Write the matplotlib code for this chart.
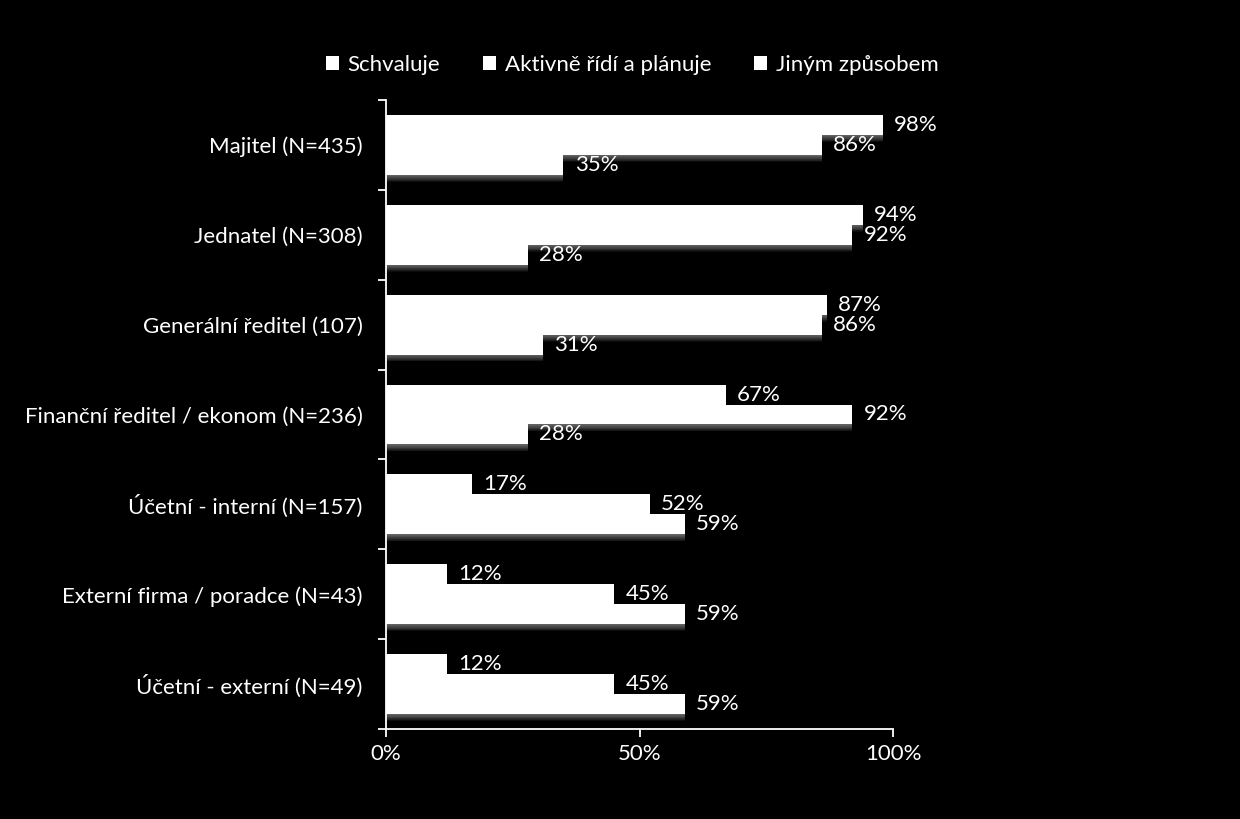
import matplotlib
matplotlib.use("Agg")
import matplotlib.pyplot as plt
import matplotlib.patheffects as pe
import numpy as np

plt.rcParams['font.family'] = ['Lato', 'DejaVu Sans']

categories = ["Majitel (N=435)", "Jednatel (N=308)", "Generální ředitel (107)",
              "Finanční ředitel / ekonom (N=236)", "Účetní - interní (N=157)",
              "Externí firma / poradce (N=43)", "Účetní - externí (N=49)"]
series_names = ["Schvaluje", "Aktivně řídí a plánuje", "Jiným způsobem"]
schvaluje = [98, 94, 87, 67, 17, 12, 12]
aktivne = [86, 92, 86, 92, 52, 45, 45]
jinym = [35, 28, 31, 28, 59, 59, 59]
x_ticks = [0, 50, 100]
x_tick_labels = ["0%", "50%", "100%"]

FS = 16
fig = plt.figure(figsize=(12.4, 8.19), dpi=100, facecolor='black')
ax = fig.add_axes([386/1240, 1-729/819, (893-386)/1240, (729-100)/819])
ax.set_facecolor('black')

y = np.arange(len(categories))
h = 20/90
shadow = [pe.SimplePatchShadow(offset=(0, -k*0.45), shadow_rgbFace='#dddddd', alpha=0.055)
          for k in range(1, 12)] + [pe.Normal()]
for k, (vals, name) in enumerate(zip([schvaluje, aktivne, jinym], series_names)):
    ypos = y + (k - 1) * h
    bars = ax.barh(ypos, vals, height=h, color='white', label=name, zorder=2)
    for b in bars:
        b.set_path_effects(shadow)
    for yy, v in zip(ypos, vals):
        ax.text(v + 2.2, yy, f"{v}%", color='white', fontsize=FS, va='center', ha='left', zorder=5)

ax.set_xlim(0, 100)
ax.set_ylim(len(categories) - 0.5, -0.5)
ax.set_xticks(x_ticks)
ax.set_xticklabels(x_tick_labels)
ax.set_yticks(y)
ax.set_yticklabels(categories)
ax.set_yticks(np.arange(len(categories) + 1) - 0.5, minor=True)
ax.tick_params(axis='y', which='major', length=0, pad=17, labelsize=FS, labelcolor='white')
ax.tick_params(axis='y', which='minor', length=6, width=1.3, color='white', direction='out')
ax.tick_params(axis='x', which='major', length=6, width=1.3, color='white', direction='out',
               pad=5, labelsize=FS, labelcolor='white')
for s in ['top', 'right']:
    ax.spines[s].set_visible(False)
for s in ['left', 'bottom']:
    ax.spines[s].set_color('white')
    ax.spines[s].set_linewidth(1.3)

handles, labels = ax.get_legend_handles_labels()
leg = fig.legend(handles, labels, loc='center', bbox_to_anchor=(632/1240, 1-65/819), ncol=3,
                 frameon=False, fontsize=FS, labelcolor='white', handlelength=0.62, handleheight=0.62,
                 handletextpad=0.38, columnspacing=1.9)
for hnd in leg.legend_handles:
    hnd.set_path_effects([])

fig.savefig("out.png", dpi=100, facecolor='black')
